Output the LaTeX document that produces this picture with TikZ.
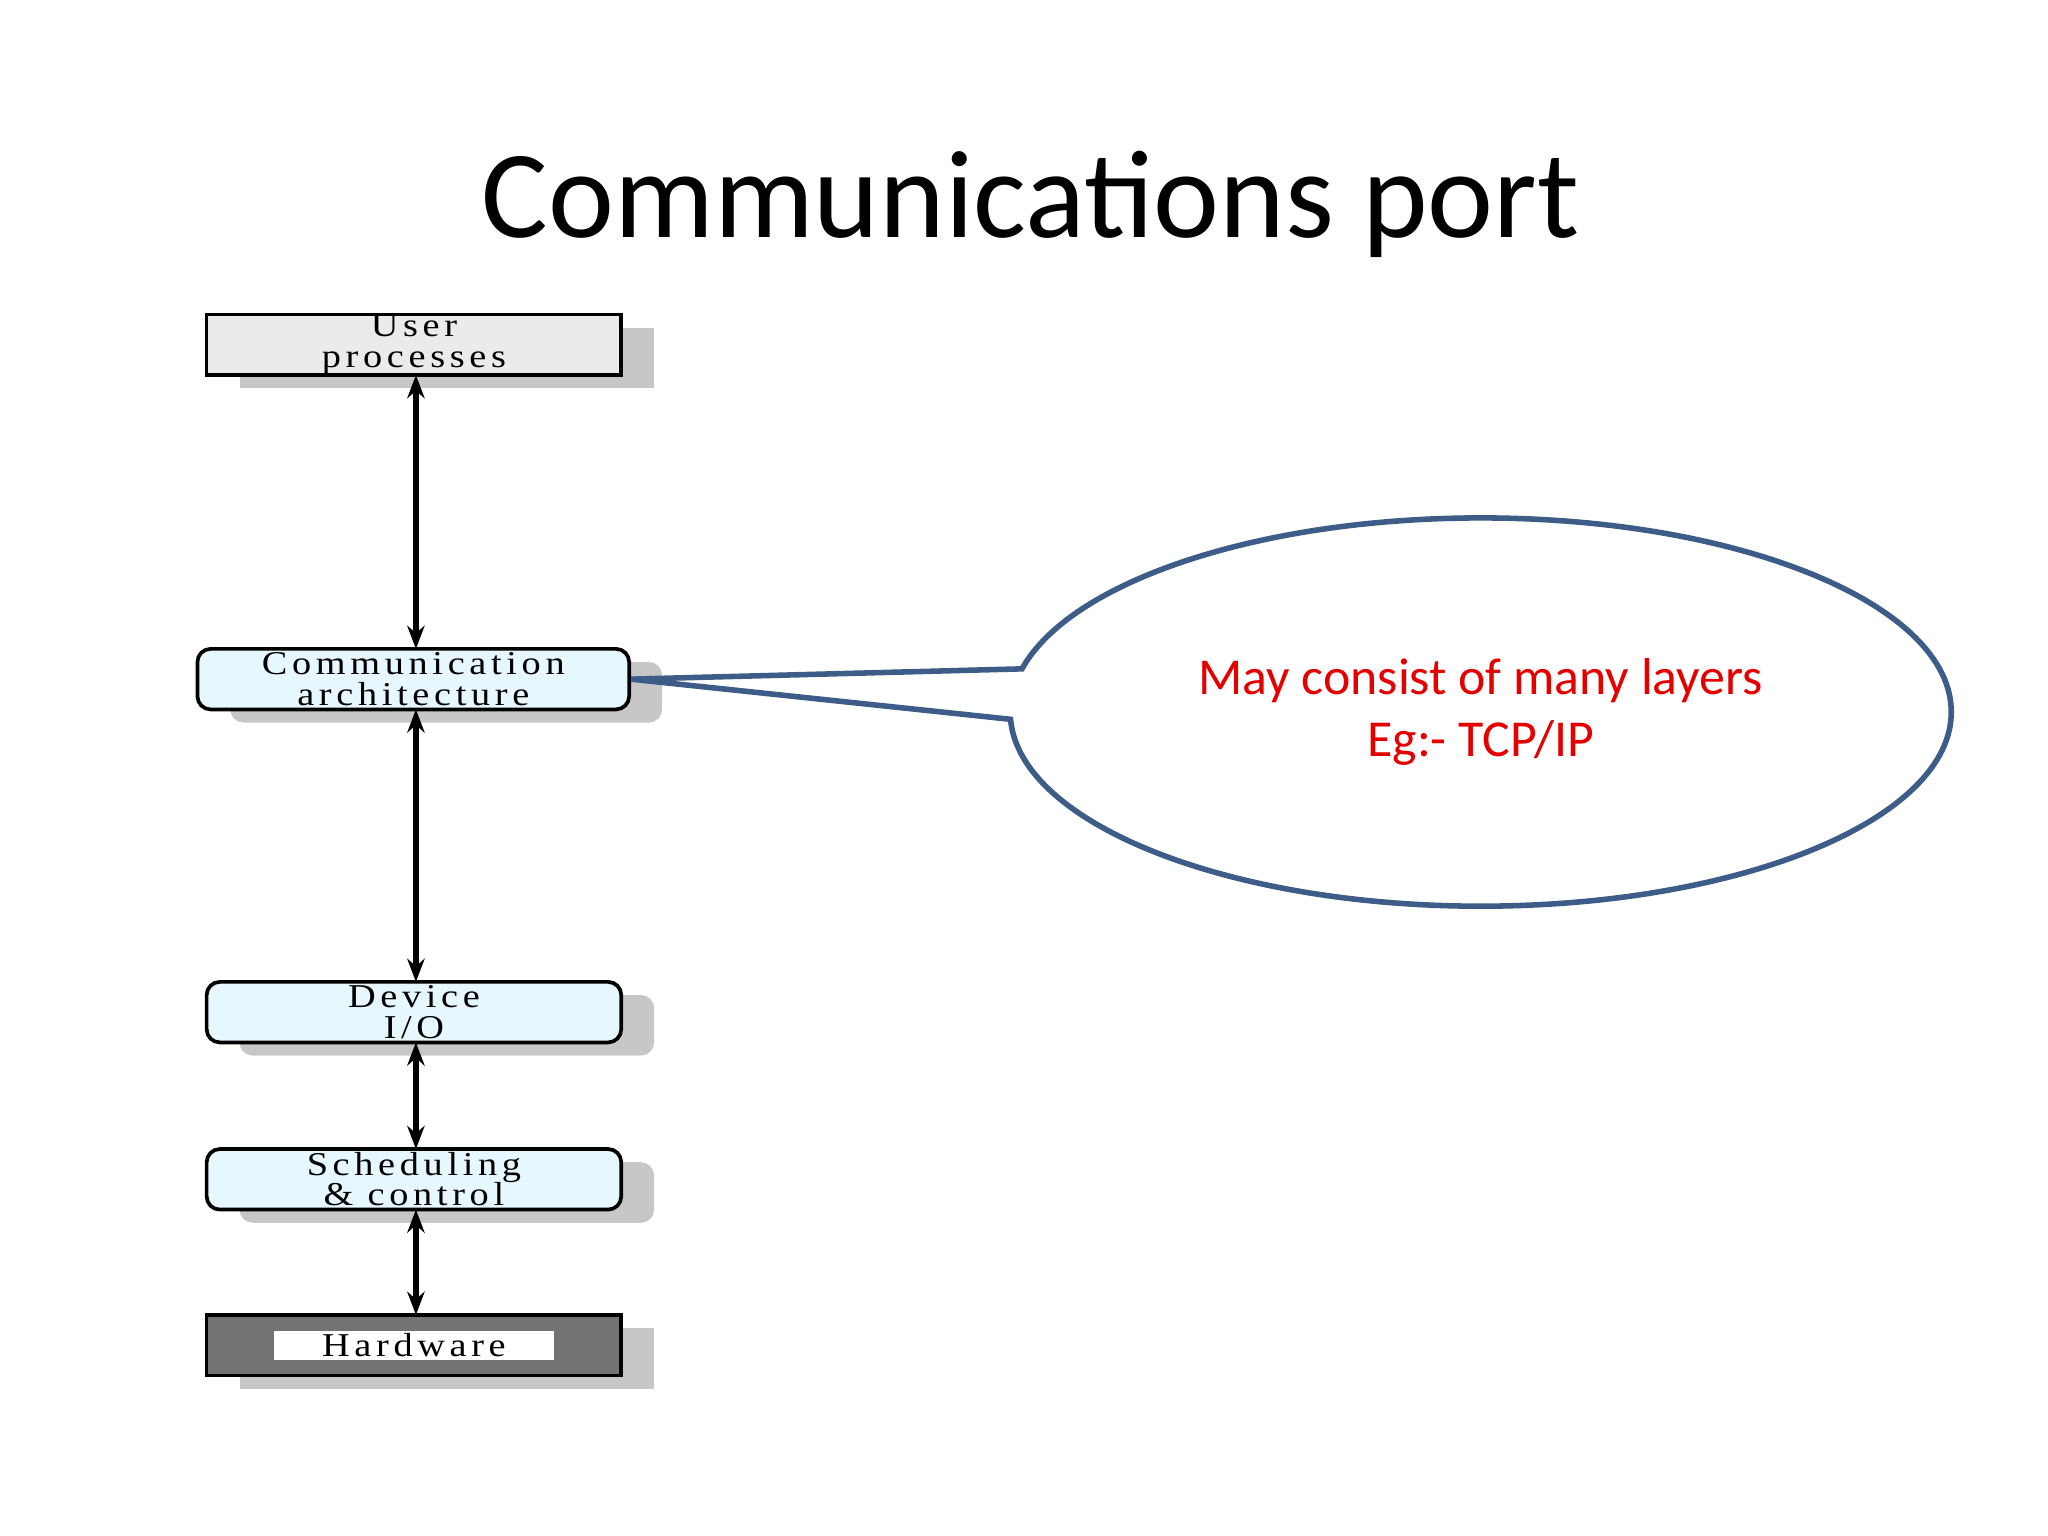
\documentclass[tikz,border=0pt]{standalone}
\usepackage{fontspec}
\setmainfont{Carlito}
\newfontfamily\boxfont[LetterSpace=14,FakeStretch=1.15]{Liberation Serif}
\usetikzlibrary{shapes.callouts,shadows,arrows.meta}

\tikzset{
  layer/.style={draw=black, line width=0.8pt, minimum width=3.15cm, minimum height=0.46cm,
    inner sep=0pt, align=center, font=\boxfont\fontsize{7.2}{6.6}\selectfont,
    drop shadow={shadow xshift=0.25cm, shadow yshift=-0.1cm, fill=black!22, opacity=1}},
  plainbox/.style={layer, fill=black!8},
  softbox/.style={layer, rounded corners=0.1cm, fill=cyan!10},
  link/.style={line width=1.3pt, {Stealth[length=5pt]}-{Stealth[length=5pt]}},
}

\begin{document}
\begin{tikzpicture}
\useasboundingbox (0,0) rectangle (15.56,-11.67);
% title
\node (title) at (7.83,-1.55) {\fontsize{27}{27}\selectfont Communications port};
% layers
\node[plainbox] (user) at (3.145,-2.62) {User\\processes};
\node[softbox, minimum width=3.28cm] (comm) at (3.14,-5.16) {Communication\\architecture};
\node[softbox] (device) at (3.145,-7.69) {Device\\I/O};
\node[softbox] (sched) at (3.145,-8.96) {Scheduling\\\& control};
\node[plainbox, fill=black!55] (hw) at (3.145,-10.22) {};
\node[fill=white, minimum width=2.13cm, minimum height=0.22cm, inner sep=0pt,
  font=\boxfont\fontsize{7.2}{7}\selectfont] (hwlabel) at (hw) {Hardware};
% connectors
\draw[link] (3.16,-2.85) -- (3.16,-4.93);
\draw[link] (3.16,-5.39) -- (3.16,-7.46);
\draw[link] (3.16,-7.92) -- (3.16,-8.73);
\draw[link] (3.16,-9.19) -- (3.16,-9.99);
% callout
\node[ellipse callout, draw={rgb,1:red,0.24;green,0.36;blue,0.53}, line width=1.2pt,
  minimum width=7.15cm, minimum height=2.95cm, align=center, text=red!90!black,
  font=\fontsize{11.2}{13.5}\selectfont, callout absolute pointer={(comm.east)}]
  (note) at (11.25,-5.41) {May consist of many layers\\Eg:- TCP/IP};
\end{tikzpicture}
\end{document}
